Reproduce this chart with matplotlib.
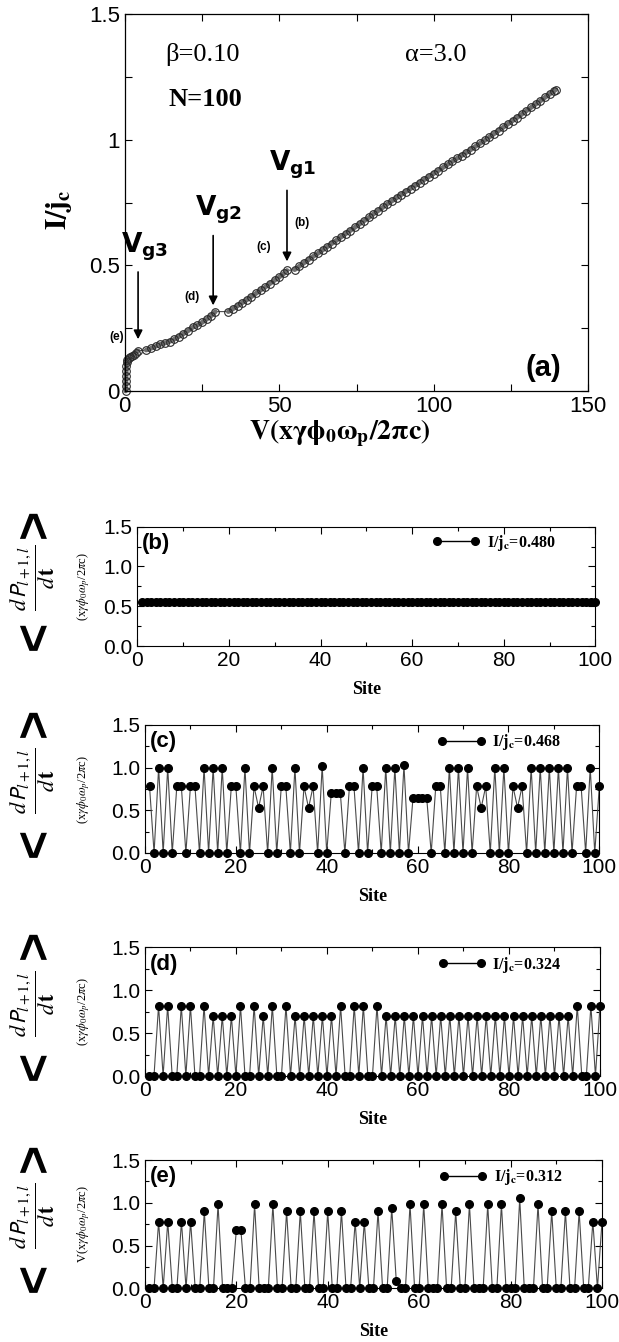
import numpy as np
import matplotlib
matplotlib.use('Agg')
import matplotlib.pyplot as plt
from matplotlib.ticker import MultipleLocator, FormatStrFormatter

plt.rcParams['font.family'] = ['Liberation Sans', 'DejaVu Sans']
plt.rcParams['mathtext.fontset'] = 'stix'

# panel (a): I-V characteristic, branches start at these indices
volt = [0.3, 0.3, 0.35, 0.4, 0.45, 0.5, 0.6, 0.8, 1.2, 1.8, 2.4, 3.0, 3.6, 4.3,
        6.9, 8.5, 10.0, 11.5, 13.0, 14.5, 16.0, 17.5, 19.0, 20.5, 22.0, 23.5, 25.0, 26.5, 28.0, 29.3,
        33.5, 35.0, 36.5, 38.0, 39.5, 41.0, 42.5, 44.0, 45.5, 47.0, 48.5, 50.0, 51.5, 52.5,
        55.0, 56.5, 58.0, 59.5, 61.0, 62.5, 64.0, 65.5, 67.0, 68.5, 70.0, 71.5, 73.0, 74.5,
        76.0, 77.5, 79.0, 80.5, 82.0, 83.5, 85.0, 86.5, 88.0, 89.5, 91.0, 92.5, 94.0, 95.5,
        97.0, 98.5, 100.0, 101.5, 103.0, 104.5, 106.0, 107.5, 109.0, 110.5, 112.0, 113.5,
        115.0, 116.5, 118.0, 119.5, 121.0, 122.5, 124.0, 125.5, 127.0, 128.5, 130.0, 131.5,
        133.0, 134.5, 136.0, 137.5, 139.0, 139.5]
curr = [0.0, 0.02, 0.04, 0.06, 0.08, 0.10, 0.115, 0.125, 0.13, 0.135, 0.14, 0.145, 0.152, 0.16,
        0.163, 0.170, 0.178, 0.186, 0.191, 0.197, 0.206, 0.217, 0.228, 0.240, 0.254, 0.262, 0.273, 0.286, 0.300, 0.316,
        0.316, 0.327, 0.339, 0.351, 0.363, 0.376, 0.389, 0.402, 0.414, 0.428, 0.441, 0.454, 0.468, 0.480,
        0.483, 0.497, 0.510, 0.523, 0.536, 0.548, 0.561, 0.574, 0.587, 0.600, 0.613, 0.626, 0.639, 0.652,
        0.665, 0.678, 0.691, 0.705, 0.718, 0.731, 0.745, 0.757, 0.769, 0.782, 0.794, 0.806, 0.818, 0.830,
        0.842, 0.854, 0.866, 0.878, 0.890, 0.902, 0.914, 0.926, 0.937, 0.949, 0.961, 0.974,
        0.986, 0.998, 1.011, 1.024, 1.037, 1.050, 1.063, 1.076, 1.089, 1.102, 1.116, 1.129,
        1.142, 1.155, 1.169, 1.182, 1.195, 1.200]
branch_starts = [0, 14, 30, 44]

# panels (b)-(e): time averaged voltage per site
sites = np.arange(1, 101)
dp_b = [0.55] * 100
dp_c = [.78, 0, 1.0, 0, 1.0, 0, .78, .78, 0, .78,
        .78, 0, 1.0, 0, 1.0, 0, 1.0, 0, .78, .78,
        0, 1.0, 0, .78, .53, .78, 0, 1.0, 0, .78,
        .78, 0, 1.0, 0, .78, .53, .78, 0, 1.02, 0,
        .70, .70, .70, 0, .78, .78, 0, 1.0, 0, .78,
        .78, 0, 1.0, 0, 1.0, 0, 1.03, 0, .65, .65,
        .65, .65, 0, .78, .78, 0, 1.0, 0, 1.0, 0,
        1.0, 0, .78, .53, .78, 0, 1.0, 0, 1.0, 0,
        .78, .53, .78, 0, 1.0, 0, 1.0, 0, 1.0, 0,
        1.0, 0, 1.0, 0, .78, .78, 0, 1.0, 0, .78]
dp_d = [0, 0, .82, 0, .82, 0, 0, .82, 0, .82,
        0, 0, .82, 0, .70, 0, .70, 0, .70, 0,
        .82, 0, 0, .82, 0, .70, 0, .82, 0, 0,
        .82, 0, .70, 0, .70, 0, .70, 0, .70, 0,
        .70, 0, .82, 0, 0, .82, 0, .82, 0, 0,
        .82, 0, .70, 0, .70, 0, .70, 0, .70, 0,
        .70, 0, .70, 0, .70, 0, .70, 0, .70, 0,
        .70, 0, .70, 0, .70, 0, .70, 0, .70, 0,
        .70, 0, .70, 0, .70, 0, .70, 0, .70, 0,
        .70, 0, .70, 0, .82, 0, 0, .82, 0, .82]
dp_e = [0, 0, .78, 0, .78, 0, 0, .78, 0, .78,
        0, 0, .90, 0, 0, .98, 0, 0, 0, .68,
        .68, 0, 0, .98, 0, 0, 0, .98, 0, 0,
        .90, 0, 0, .90, 0, 0, .90, 0, 0, .90,
        0, 0, .90, 0, 0, .78, 0, .78, 0, 0,
        .90, 0, 0, .94, .08, 0, 0, .98, 0, 0,
        .98, 0, 0, 0, .98, 0, 0, .90, 0, 0,
        .98, 0, 0, 0, .98, 0, 0, .98, 0, 0,
        0, 1.05, 0, 0, 0, .98, 0, 0, .90, 0,
        0, .90, 0, 0, .90, 0, 0, .78, 0, .78]
currents = ['0.480', '0.468', '0.324', '0.312']
tags = ['(b)', '(c)', '(d)', '(e)']
unit_labels = [r'(x$\gamma\phi_0\omega_p$/2$\pi$c)'] * 3 + [r'V(x$\gamma\phi_0\omega_p$/2$\pi$c)']

W, H = 619, 1342
SERIF = 'Liberation Serif'


def box(x0, x1, ytop, ybot):
    return [x0 / W, 1 - ybot / H, (x1 - x0) / W, (ybot - ytop) / H]


def fx(x):
    return x / W


def fy(y):
    return 1 - y / H


def draw_iv(fig):
    ax = fig.add_axes(box(124.8, 588.2, 14.3, 391))
    ax.plot(volt, curr, '-', color='#333333', lw=0.7, clip_on=False)
    ends = branch_starts[1:] + [len(volt)]
    for s, e in zip(branch_starts, ends):
        ax.plot(volt[s:e], curr[s:e], '-', color='#6e6e6e', lw=3.4, solid_capstyle='round', clip_on=False)
    ax.plot(volt, curr, 'o', ms=5.5, mfc='none', mec='#2a2a2a', mew=0.8, clip_on=False)
    ax.set_xlim(0, 150)
    ax.set_ylim(0, 1.5)
    ax.set_xticks([0, 50, 100, 150])
    ax.set_yticks([0, 0.5, 1, 1.5])
    ax.set_yticklabels(['0', '0.5', '1', '1.5'])
    ax.xaxis.set_minor_locator(MultipleLocator(25))
    ax.yaxis.set_minor_locator(MultipleLocator(0.25))
    ax.tick_params(which='both', direction='in', top=True, right=True, length=5,
                   labelsize=16, width=0.8)
    for s in ax.spines.values():
        s.set_linewidth(0.9)

    arrows = [(52.5, 0.81, 0.505, r'$\mathbf{V_{g1}}$', 54.2, 0.90),
              (28.6, 0.63, 0.33, r'$\mathbf{V_{g2}}$', 30.5, 0.72),
              (4.3, 0.485, 0.195, r'$\mathbf{V_{g3}}$', 6.5, 0.575)]
    for x, y0, y1, lab, lx, ly in arrows:
        ax.annotate('', xy=(x, y1), xytext=(x, y0),
                    arrowprops=dict(arrowstyle='-|>', color='black', lw=1.2, mutation_scale=13))
        ax.text(lx, ly, lab, fontsize=19, ha='center', va='center', math_fontfamily='dejavusans')
    for lab, x, y in [('(b)', 57.5, 0.668), ('(c)', 45.0, 0.575), ('(d)', 21.6, 0.376), ('(e)', -2.7, 0.216)]:
        ax.text(x, y, lab, fontsize=8.5, fontweight='bold', ha='center', va='center')

    ax.text(25.3, 1.338, 'β=0.10', fontsize=19, family=SERIF, ha='center', va='center')
    ax.text(26.0, 1.159, 'N=100', fontsize=19, family=SERIF, fontweight='bold', ha='center', va='center')
    ax.text(100.5, 1.338, 'α=3.0', fontsize=19, family=SERIF, ha='center', va='center')
    ax.text(135.5, 0.092, '(a)', fontsize=21, fontweight='bold', ha='center', va='center')

    fig.text(fx(59), fy(210), r'$\mathbf{I/j_c}$', fontsize=21, rotation=90, ha='center', va='center')
    fig.text(fx(340), fy(433), r'$\mathbf{V(x\gamma\phi_0\omega_p/2\pi c)}$', fontsize=20,
             ha='center', va='center')


def draw_site_panel(fig, rect, values, cur, tag, unit, top, bot):
    ax = fig.add_axes(rect)
    ax.plot(sites, values, '-', color='#4a4a4a', lw=0.8, marker='o', ms=5.5,
            mfc='black', mec='black', clip_on=False, label=r'I/j$_\mathbf{c}$=' + cur)
    ax.set_xlim(0, 100)
    ax.set_ylim(0, 1.5)
    ax.xaxis.set_major_locator(MultipleLocator(20))
    ax.xaxis.set_minor_locator(MultipleLocator(10))
    ax.yaxis.set_major_locator(MultipleLocator(0.5))
    ax.yaxis.set_minor_locator(MultipleLocator(0.25))
    ax.yaxis.set_major_formatter(FormatStrFormatter('%.1f'))
    ax.tick_params(which='major', direction='in', top=True, right=True, length=5, labelsize=15, width=0.8)
    ax.tick_params(which='minor', direction='in', top=True, right=True, length=3, width=0.8)
    ax.set_xlabel('Site', family=SERIF, fontweight='bold', fontsize=13, labelpad=8)
    ax.text(0.01, 0.95, tag, transform=ax.transAxes, fontsize=16, fontweight='bold', ha='left', va='top')
    leg = ax.legend(loc='center left', bbox_to_anchor=(0.63, 0.865), frameon=False, numpoints=2,
                    handlelength=3.0, handletextpad=0.4, borderaxespad=0,
                    prop={'family': SERIF, 'weight': 'bold', 'size': 11.5})
    for h in leg.legend_handles:
        h.set_color('black')
        h.set_linewidth(1.0)

    mid = (top + bot) / 2
    fig.text(fx(84), fy(mid), unit, fontsize=9, family=SERIF, rotation=90, ha='center', va='center')
    fig.text(fx(33), fy(mid - 8), r'$\dfrac{d\,\mathsf{P}_{l+1,l}}{d\,\mathbf{t}}$', fontsize=16,
             rotation=90, ha='center', va='center')
    fig.text(fx(36), fy(top - 3), '>', fontsize=36, fontweight='bold', rotation=90, ha='center', va='center')
    fig.text(fx(36), fy(bot - 11), '<', fontsize=36, fontweight='bold', rotation=90, ha='center', va='center')


def make_figure():
    fig = plt.figure(figsize=(W / 100, H / 100), dpi=100)
    draw_iv(fig)
    frames = [(137.4, 595.3, 526.7, 646.0),
              (145.0, 599.3, 725.0, 853.0),
              (144.9, 600.0, 947.3, 1076.0),
              (144.9, 602.0, 1160.0, 1288.3)]
    for (x0, x1, t, b), vals, cur, tag, unit in zip(frames, [dp_b, dp_c, dp_d, dp_e], currents, tags, unit_labels):
        draw_site_panel(fig, box(x0, x1, t, b), vals, cur, tag, unit, t, b)
    fig.savefig('out.png', dpi=100)


if __name__ == '__main__':
    make_figure()
